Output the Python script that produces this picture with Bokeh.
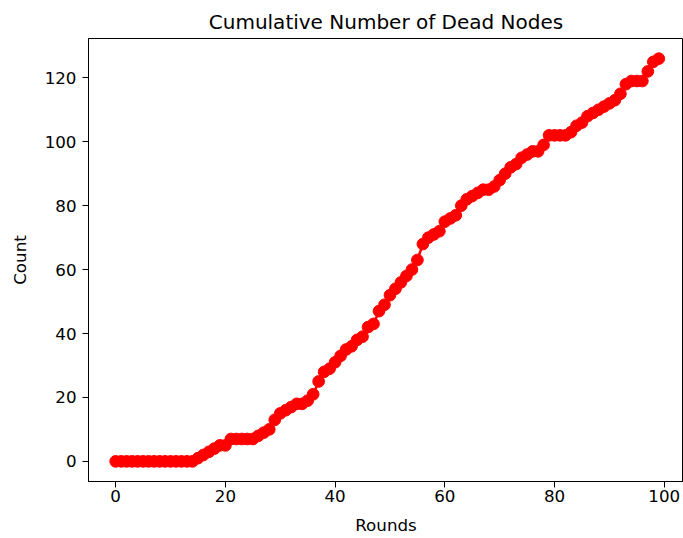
from bokeh.plotting import figure
from bokeh.models import Range1d, FixedTicker
from bokeh.embed import file_html
from bokeh.resources import INLINE

rounds = list(range(100))
dead_nodes = [
    0, 0, 0, 0, 0, 0, 0, 0, 0, 0,
    0, 0, 0, 0, 0, 1, 2, 3, 4, 5,
    5, 7, 7, 7, 7, 7, 8, 9, 10, 13,
    15, 16, 17, 18, 18, 19, 21, 25, 28, 29,
    31, 33, 35, 36, 38, 39, 42, 43, 47, 49,
    52, 54, 56, 58, 60, 63, 68, 70, 71, 72,
    75, 76, 77, 80, 82, 83, 84, 85, 85, 86,
    88, 90, 92, 93, 95, 96, 97, 97, 99, 102,
    102, 102, 102, 103, 105, 106, 108, 109, 110, 111,
    112, 113, 115, 118, 119, 119, 119, 122, 125, 126,
]
x_ticks = [0, 20, 40, 60, 80, 100]
y_ticks = [0, 20, 40, 60, 80, 100, 120]

FONT = "DejaVu Sans"

p = figure(width=683, height=538, output_backend="svg", toolbar_location=None,
           x_range=Range1d(-4.95, 103.5), y_range=Range1d(-6.3, 132.3),
           title="Cumulative Number of Dead Nodes",
           min_border_left=88, min_border_right=0, min_border_top=38, min_border_bottom=57)

p.line(rounds, dead_nodes, color="#ff0000", line_width=2.5)
p.scatter(rounds, dead_nodes, size=11.7, color="#ff0000", line_color="#ff0000")

p.title.align = "center"
p.title.text_font = FONT
p.title.text_font_size = "20px"
p.title.text_font_style = "normal"
p.title.text_color = "black"
p.title.standoff = 9

p.xgrid.visible = False
p.ygrid.visible = False
p.outline_line_color = "black"
p.outline_line_alpha = 1
p.outline_line_width = 1

p.xaxis.axis_label = "Rounds"
p.yaxis.axis_label = "Count"
p.xaxis.ticker = FixedTicker(ticks=x_ticks)
p.yaxis.ticker = FixedTicker(ticks=y_ticks)
for ax in (p.xaxis, p.yaxis):
    ax.axis_label_text_font = FONT
    ax.axis_label_text_font_size = "16.7px"
    ax.axis_label_text_font_style = "normal"
    ax.axis_label_text_color = "black"
    ax.major_label_text_font = FONT
    ax.major_label_text_font_size = "16.7px"
    ax.major_label_text_color = "black"
    ax.major_tick_in = 0
    ax.major_tick_out = 6
    ax.minor_tick_in = 0
    ax.minor_tick_out = 0
    ax.axis_line_color = "black"
    ax.major_tick_line_color = "black"
p.xaxis.major_label_standoff = 2
p.xaxis.axis_label_standoff = 10
p.yaxis.major_label_standoff = 6
p.yaxis.axis_label_standoff = 12

p.background_fill_color = "white"
p.border_fill_color = "white"

open("out.html", "w").write(file_html(p, INLINE))
